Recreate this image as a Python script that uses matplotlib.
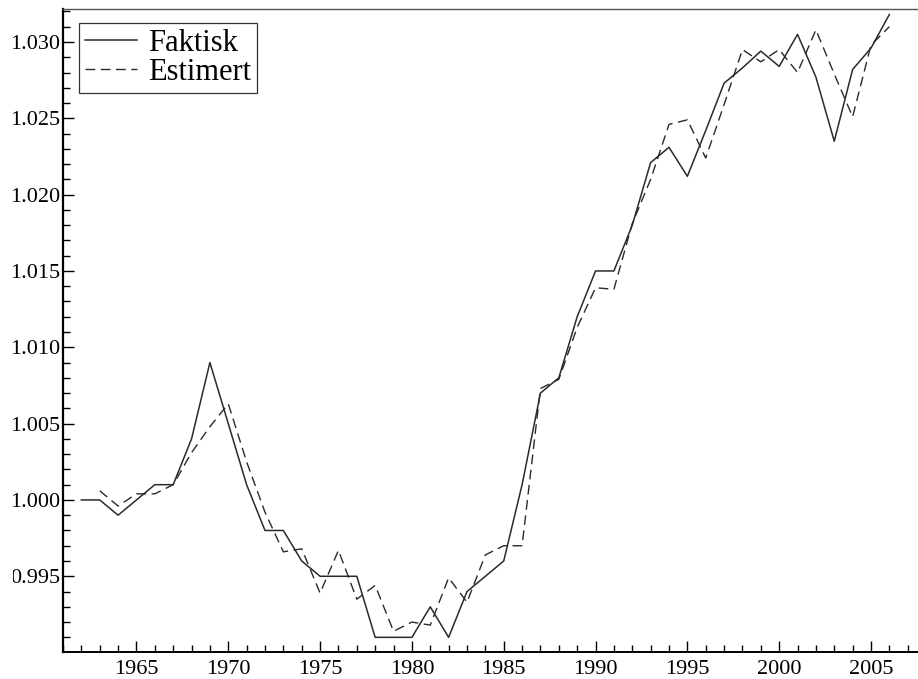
import matplotlib
matplotlib.use("Agg")
import matplotlib.pyplot as plt
from matplotlib.ticker import MultipleLocator, FormatStrFormatter
from matplotlib.transforms import Bbox

plt.rcParams['font.family'] = ['Liberation Serif', 'DejaVu Serif']

# Data
years = list(range(1962, 2007))
faktisk = [1.000, 1.000, 0.999, 1.000, 1.001, 1.001, 1.004, 1.009, 1.005, 1.001,
           0.998, 0.998, 0.996, 0.995, 0.995, 0.995, 0.991, 0.991, 0.991, 0.993,
           0.991, 0.994, 0.995, 0.996, 1.001, 1.007, 1.008, 1.012, 1.015, 1.015,
           1.018, 1.0221, 1.0231, 1.0212, 1.0242, 1.0273, 1.0283, 1.0294, 1.0284, 1.0305,
           1.0277, 1.0235, 1.0282, 1.0296, 1.0318]

years_est = list(range(1963, 2007))
estimert = [1.0006, 0.9996, 1.0004, 1.0004, 1.0010, 1.0031, 1.0048, 1.0063, 1.0025,
            0.9992, 0.9966, 0.9968, 0.9939, 0.9967, 0.9935, 0.9944, 0.9914, 0.9920,
            0.9918, 0.9949, 0.9933, 0.9964, 0.9970, 0.9970, 1.0073, 1.0079, 1.0113,
            1.0139, 1.0138, 1.0181, 1.0210, 1.0246, 1.0249, 1.0224, 1.0259, 1.0295,
            1.0287, 1.0295, 1.0280, 1.0308, 1.0279, 1.0251, 1.0298, 1.0310]

fig = plt.figure(figsize=(9.18, 6.79), dpi=100)
ax = fig.add_axes([63 / 918, 27 / 679, 1 - 63 / 918, 643 / 679])

line_col = '#2a2a2a'
ax.plot(years, faktisk, color=line_col, lw=1.1, label='Faktisk')
ax.plot(years_est, estimert, color=line_col, lw=1.0, dashes=(7, 4), label='Estimert')

ax.set_xlim(1961, 2007.56)
ax.set_ylim(0.99004, 1.03216)

ax.xaxis.set_major_locator(MultipleLocator(5))
ax.xaxis.set_minor_locator(MultipleLocator(1))
ax.yaxis.set_major_locator(MultipleLocator(0.005))
ax.yaxis.set_minor_locator(MultipleLocator(0.001))
ax.yaxis.set_major_formatter(FormatStrFormatter('%.3f'))

ax.tick_params(which='major', direction='in', length=8, width=1, labelsize=16)
ax.tick_params(which='minor', direction='in', length=5, width=1)
ax.tick_params(axis='x', which='major', pad=6)
ax.tick_params(axis='y', which='major', pad=2)
ax.tick_params(top=False, right=False, which='both')

ax.spines['right'].set_visible(False)
ax.spines['left'].set_linewidth(1.6)
ax.spines['bottom'].set_linewidth(1.4)
ax.spines['top'].set_linewidth(1.0)
ax.spines['top'].set_color('#555555')

# the reference image is cropped just left of the y tick labels
clip = Bbox.from_extents(13, 0, 918, 679)
for lab in ax.get_yticklabels():
    lab.set_clip_box(clip)
    lab.set_clip_on(True)

leg = ax.legend(loc='upper left', bbox_to_anchor=(16 / 855, 1 - 14 / 643),
                fontsize=22, frameon=True, fancybox=False, borderpad=0.2,
                handlelength=1.7, handletextpad=0.35, labelspacing=0.0,
                borderaxespad=0)
leg.get_frame().set_edgecolor('black')
leg.get_frame().set_linewidth(0.9)

fig.savefig('out.png', dpi=100)
